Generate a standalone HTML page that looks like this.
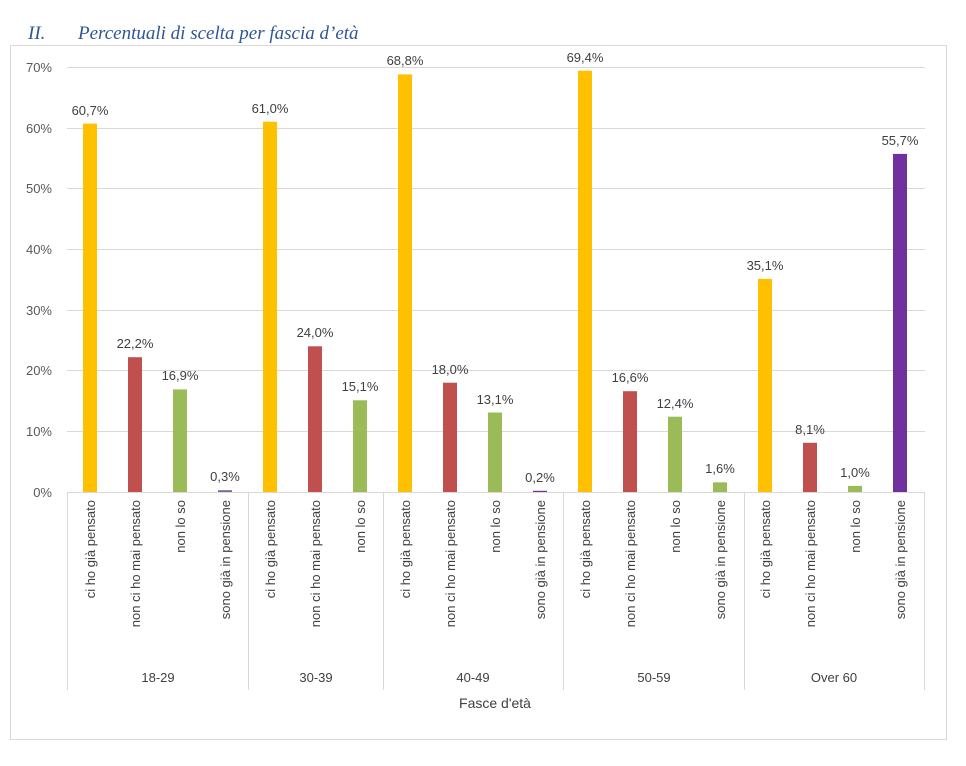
<!DOCTYPE html>
<html><head><meta charset="utf-8"><style>
body{margin:0;background:#fff;}
svg{display:block;font-family:"Liberation Sans",sans-serif;}
</style></head><body>
<svg width="966" height="766" viewBox="0 0 966 766" xmlns="http://www.w3.org/2000/svg">
<text x="28" y="39" font-family="Liberation Serif, serif" font-style="italic" font-size="19" fill="#2F5597">II.</text>
<text x="78" y="39" font-family="Liberation Serif, serif" font-style="italic" font-size="19" fill="#2F5597">Percentuali di scelta per fascia d’età</text>
<rect x="10.5" y="45.5" width="936" height="694" fill="none" stroke="#d9d9d9"/>
<g stroke="#d9d9d9" stroke-width="1">
<line x1="67" x2="925" y1="67.5" y2="67.5"/>
<line x1="67" x2="925" y1="128.5" y2="128.5"/>
<line x1="67" x2="925" y1="188.5" y2="188.5"/>
<line x1="67" x2="925" y1="249.5" y2="249.5"/>
<line x1="67" x2="925" y1="310.5" y2="310.5"/>
<line x1="67" x2="925" y1="370.5" y2="370.5"/>
<line x1="67" x2="925" y1="431.5" y2="431.5"/>
<line x1="67" x2="925" y1="492.5" y2="492.5"/>
<line x1="67.5" x2="67.5" y1="492" y2="690"/>
<line x1="248.5" x2="248.5" y1="492" y2="690"/>
<line x1="383.5" x2="383.5" y1="492" y2="690"/>
<line x1="563.5" x2="563.5" y1="492" y2="690"/>
<line x1="744.5" x2="744.5" y1="492" y2="690"/>
<line x1="924.5" x2="924.5" y1="492" y2="690"/>
</g>
<g font-size="13" fill="#595959" text-anchor="end">
<text x="52" y="72">70%</text><text x="52" y="133">60%</text><text x="52" y="193">50%</text>
<text x="52" y="254">40%</text><text x="52" y="315">30%</text><text x="52" y="375">20%</text>
<text x="52" y="436">10%</text><text x="52" y="497">0%</text>
</g>
<g>
<rect x="83" y="123.6" width="14" height="368.4" fill="#FFC000"/>
<rect x="128" y="357.2" width="14" height="134.8" fill="#C0504D"/>
<rect x="173" y="389.4" width="14" height="102.6" fill="#9BBB59"/>
<rect x="218" y="490.2" width="14" height="1.8" fill="#8064A2"/>
<rect x="263" y="121.7" width="14" height="370.3" fill="#FFC000"/>
<rect x="308" y="346.3" width="14" height="145.7" fill="#C0504D"/>
<rect x="353" y="400.3" width="14" height="91.7" fill="#9BBB59"/>
<rect x="398" y="74.4" width="14" height="417.6" fill="#FFC000"/>
<rect x="443" y="382.7" width="14" height="109.3" fill="#C0504D"/>
<rect x="488" y="412.5" width="14" height="79.5" fill="#9BBB59"/>
<rect x="533" y="490.8" width="14" height="1.2" fill="#7030A0"/>
<rect x="578" y="70.7" width="14" height="421.3" fill="#FFC000"/>
<rect x="623" y="391.2" width="14" height="100.8" fill="#C0504D"/>
<rect x="668" y="416.7" width="14" height="75.3" fill="#9BBB59"/>
<rect x="713" y="482.3" width="14" height="9.7" fill="#9BBB59"/>
<rect x="758" y="278.9" width="14" height="213.1" fill="#FFC000"/>
<rect x="803" y="442.8" width="14" height="49.2" fill="#C0504D"/>
<rect x="848" y="485.9" width="14" height="6.1" fill="#9BBB59"/>
<rect x="893" y="153.9" width="14" height="338.1" fill="#7030A0"/>
</g>
<g font-size="13" fill="#404040" text-anchor="middle">
<text x="90" y="115">60,7%</text>
<text x="135" y="348">22,2%</text>
<text x="180" y="380">16,9%</text>
<text x="225" y="481">0,3%</text>
<text x="270" y="113">61,0%</text>
<text x="315" y="337">24,0%</text>
<text x="360" y="391">15,1%</text>
<text x="405" y="65">68,8%</text>
<text x="450" y="374">18,0%</text>
<text x="495" y="404">13,1%</text>
<text x="540" y="482">0,2%</text>
<text x="585" y="62">69,4%</text>
<text x="630" y="382">16,6%</text>
<text x="675" y="408">12,4%</text>
<text x="720" y="473">1,6%</text>
<text x="765" y="270">35,1%</text>
<text x="810" y="434">8,1%</text>
<text x="855" y="477">1,0%</text>
<text x="900" y="145">55,7%</text>
</g>
<g font-size="13" fill="#404040" text-anchor="end">
<text transform="translate(95,500) rotate(-90)">ci ho già pensato</text>
<text transform="translate(140,500) rotate(-90)">non ci ho mai pensato</text>
<text transform="translate(185,500) rotate(-90)">non lo so</text>
<text transform="translate(230,500) rotate(-90)">sono già in pensione</text>
<text transform="translate(275,500) rotate(-90)">ci ho già pensato</text>
<text transform="translate(320,500) rotate(-90)">non ci ho mai pensato</text>
<text transform="translate(365,500) rotate(-90)">non lo so</text>
<text transform="translate(410,500) rotate(-90)">ci ho già pensato</text>
<text transform="translate(455,500) rotate(-90)">non ci ho mai pensato</text>
<text transform="translate(500,500) rotate(-90)">non lo so</text>
<text transform="translate(545,500) rotate(-90)">sono già in pensione</text>
<text transform="translate(590,500) rotate(-90)">ci ho già pensato</text>
<text transform="translate(635,500) rotate(-90)">non ci ho mai pensato</text>
<text transform="translate(680,500) rotate(-90)">non lo so</text>
<text transform="translate(725,500) rotate(-90)">sono già in pensione</text>
<text transform="translate(770,500) rotate(-90)">ci ho già pensato</text>
<text transform="translate(815,500) rotate(-90)">non ci ho mai pensato</text>
<text transform="translate(860,500) rotate(-90)">non lo so</text>
<text transform="translate(905,500) rotate(-90)">sono già in pensione</text>
</g>
<g font-size="13" fill="#404040" text-anchor="middle">
<text x="158" y="682">18-29</text><text x="316" y="682">30-39</text><text x="473" y="682">40-49</text>
<text x="654" y="682">50-59</text><text x="834" y="682">Over 60</text>
<text x="495" y="708" font-size="14">Fasce d'età</text>
</g>
</svg>
</body></html>
